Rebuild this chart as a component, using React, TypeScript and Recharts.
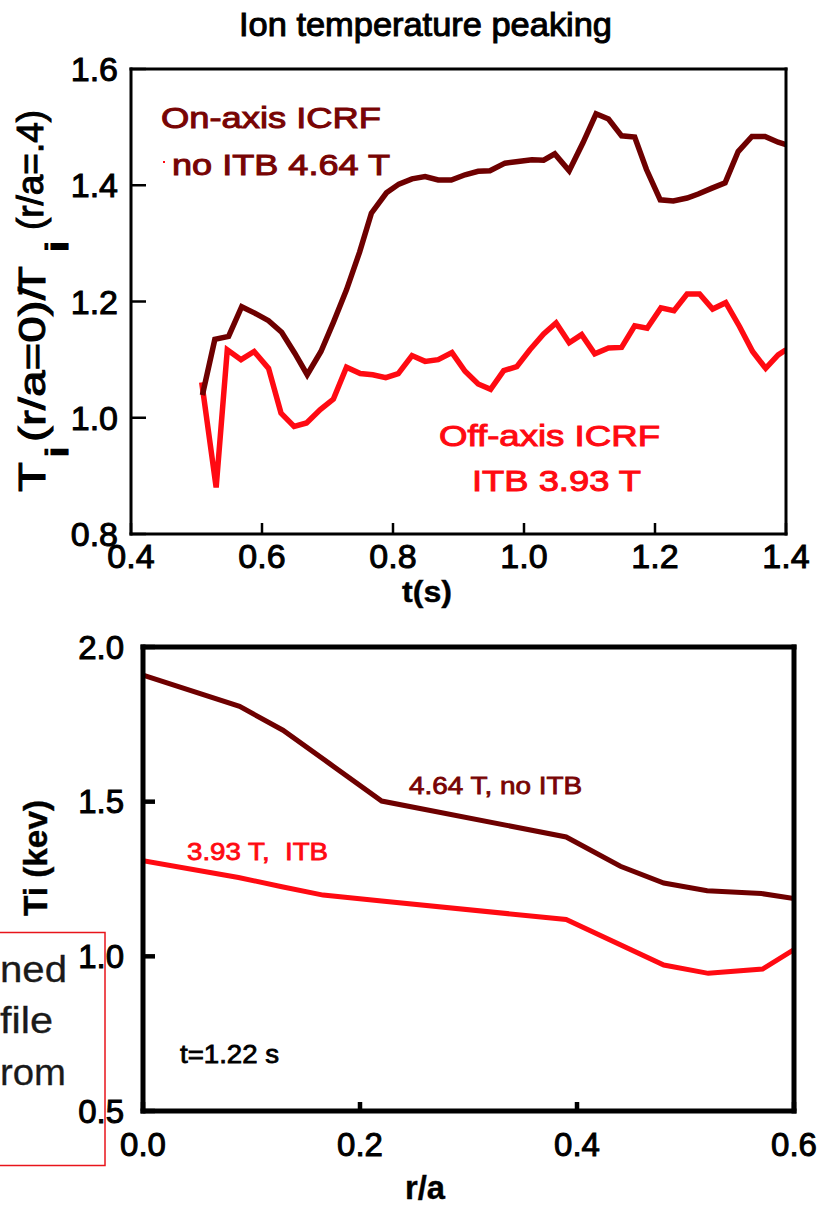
import React from 'react';
import { LineChart, Line, XAxis, YAxis } from 'recharts';

const FONT = "'Liberation Sans', Arial, Helvetica, sans-serif";
const DARK = '#6E0000';
const DARK_TEXT = '#780404';
const RED = '#FF0A12';

// ---- Top chart: Ti(r/a=0)/Ti(r/a=.4) vs t(s)
const onAxisT = [0.509, 0.528, 0.549, 0.569, 0.589, 0.610, 0.630, 0.650, 0.669, 0.690, 0.709, 0.729, 0.749, 0.767, 0.790, 0.809, 0.829, 0.849, 0.869, 0.889, 0.910, 0.930, 0.948, 0.971, 0.991, 1.012, 1.030, 1.047, 1.069, 1.090, 1.110, 1.129, 1.149, 1.169, 1.187, 1.208, 1.228, 1.249, 1.266, 1.287, 1.307, 1.327, 1.348, 1.368, 1.388, 1.400];
const onAxisV = [1.039, 1.135, 1.140, 1.191, 1.180, 1.167, 1.147, 1.111, 1.074, 1.114, 1.164, 1.220, 1.285, 1.352, 1.387, 1.402, 1.411, 1.415, 1.409, 1.409, 1.418, 1.424, 1.425, 1.438, 1.441, 1.444, 1.443, 1.454, 1.425, 1.473, 1.523, 1.514, 1.485, 1.483, 1.427, 1.375, 1.373, 1.378, 1.385, 1.395, 1.404, 1.458, 1.484, 1.484, 1.474, 1.470];
const offAxisT = [0.508, 0.530, 0.547, 0.568, 0.588, 0.610, 0.629, 0.649, 0.668, 0.689, 0.709, 0.729, 0.750, 0.769, 0.789, 0.808, 0.829, 0.849, 0.869, 0.890, 0.910, 0.930, 0.949, 0.969, 0.989, 1.009, 1.030, 1.049, 1.069, 1.088, 1.108, 1.129, 1.149, 1.169, 1.188, 1.209, 1.229, 1.249, 1.268, 1.288, 1.308, 1.329, 1.349, 1.369, 1.388, 1.400];
const offAxisV = [1.061, 0.880, 1.117, 1.100, 1.114, 1.085, 1.008, 0.985, 0.991, 1.014, 1.032, 1.087, 1.076, 1.074, 1.069, 1.076, 1.107, 1.097, 1.100, 1.112, 1.080, 1.058, 1.049, 1.081, 1.088, 1.117, 1.144, 1.163, 1.129, 1.143, 1.110, 1.120, 1.121, 1.158, 1.154, 1.189, 1.184, 1.213, 1.213, 1.187, 1.198, 1.157, 1.114, 1.085, 1.108, 1.117];

const topXMajor = [0.4, 0.6, 0.8, 1.0, 1.2, 1.4];
const topXMinor = [0.45, 0.5, 0.55, 0.65, 0.7, 0.75, 0.85, 0.9, 0.95, 1.05, 1.1, 1.15, 1.25, 1.3, 1.35];
const topYMajor = [0.8, 1.0, 1.2, 1.4, 1.6];
const topYMinor = [0.85, 0.9, 0.95, 1.05, 1.1, 1.15, 1.25, 1.3, 1.35, 1.45, 1.5, 1.55];

// ---- Bottom chart: Ti (kev) vs r/a at t=1.22 s
const noItbR = [0, 0.089, 0.129, 0.172, 0.220, 0.390, 0.440, 0.480, 0.520, 0.570, 0.600];
const noItbV = [1.909, 1.808, 1.731, 1.623, 1.502, 1.386, 1.291, 1.237, 1.212, 1.203, 1.187];
const itbR = [0, 0.088, 0.128, 0.166, 0.220, 0.390, 0.480, 0.521, 0.571, 0.600];
const itbV = [1.309, 1.255, 1.225, 1.198, 1.179, 1.119, 0.972, 0.945, 0.959, 1.022];

const botXMajor = [0, 0.2, 0.4, 0.6];
const botXMinor = [0.05, 0.1, 0.15, 0.25, 0.3, 0.35, 0.45, 0.5, 0.55];
const botYMajor = [0.5, 1.0, 1.5, 2.0];
const botYMinor = [0.6, 0.7, 0.8, 0.9, 1.1, 1.2, 1.3, 1.4, 1.6, 1.7, 1.8, 1.9];

const onAxisData = onAxisT.map((t, i) => ({ t, v: onAxisV[i] }));
const offAxisData = offAxisT.map((t, i) => ({ t, v: offAxisV[i] }));
const noItbData = noItbR.map((t, i) => ({ t, v: noItbV[i] }));
const itbData = itbR.map((t, i) => ({ t, v: itbV[i] }));

const fmt = (v: number) => v.toFixed(1);

type Cfg = {
  xDomain: [number, number];
  yDomain: [number, number];
  xMajor: number[];
  xMinor: number[];
  yMajor: number[];
  yMinor: number[];
  frameW: number;
  tickW: number;
  fontSize: number;
  xGap: number;
  yGap: number;
  len: { xbMaj: number; xbMin: number; xtMaj: number; xtMin: number; ylMaj: number; ylMin: number; yrMaj: number; yrMin: number };
};

// each axis is 1px thick; two axes per side, so margins are reduced by 2
function frameAxes(c: Cfg) {
  const line = { stroke: '#000', strokeWidth: c.frameW, strokeLinecap: 'square' as const };
  const tl = { stroke: '#000', strokeWidth: c.tickW };
  const tickStyle = { fill: '#000', stroke: '#000', strokeWidth: 1, fontSize: c.fontSize, fontFamily: FONT };
  const common = { type: 'number' as const, allowDataOverflow: true, interval: 0 as const, tickLine: tl };
  return [
    <XAxis key="xb" xAxisId="main" dataKey="t" {...common} domain={c.xDomain} ticks={c.xMajor} orientation="bottom" height={1}
      axisLine={line} tickSize={-c.len.xbMaj} tickMargin={c.len.xbMaj + c.xGap} tick={tickStyle} tickFormatter={fmt} />,
    <XAxis key="xbm" xAxisId="xbMinor" dataKey="t" {...common} domain={c.xDomain} ticks={c.xMinor} orientation="bottom" height={1}
      axisLine={false} tickSize={-(c.len.xbMin + 1)} tick={false} />,
    <XAxis key="xt" xAxisId="xtMajor" dataKey="t" {...common} domain={c.xDomain} ticks={c.xMajor} orientation="top" height={1}
      axisLine={line} tickSize={-c.len.xtMaj} tick={false} />,
    <XAxis key="xtm" xAxisId="xtMinor" dataKey="t" {...common} domain={c.xDomain} ticks={c.xMinor} orientation="top" height={1}
      axisLine={false} tickSize={-(c.len.xtMin + 1)} tick={false} />,
    <YAxis key="yl" yAxisId="main" {...common} domain={c.yDomain} ticks={c.yMajor} orientation="left" width={1}
      axisLine={line} tickSize={-c.len.ylMaj} tickMargin={c.len.ylMaj + c.yGap} tick={tickStyle} tickFormatter={fmt} />,
    <YAxis key="ylm" yAxisId="ylMinor" {...common} domain={c.yDomain} ticks={c.yMinor} orientation="left" width={1}
      axisLine={false} tickSize={-(c.len.ylMin + 1)} tick={false} />,
    <YAxis key="yr" yAxisId="yrMajor" {...common} domain={c.yDomain} ticks={c.yMajor} orientation="right" width={1}
      axisLine={line} tickSize={-c.len.yrMaj} tick={false} />,
    <YAxis key="yrm" yAxisId="yrMinor" {...common} domain={c.yDomain} ticks={c.yMinor} orientation="right" width={1}
      axisLine={false} tickSize={-(c.len.yrMin + 1)} tick={false} />,
  ];
}

function TopChart() {
  return (
    <LineChart width={825} height={615} margin={{ top: 67, right: 37, bottom: 79, left: 129 }}>
      {frameAxes({
        xDomain: [0.4, 1.4], yDomain: [0.8, 1.6],
        xMajor: topXMajor, xMinor: topXMinor, yMajor: topYMajor, yMinor: topYMinor,
        frameW: 3, tickW: 2.5, fontSize: 34, xGap: 10, yGap: 13,
        len: { xbMaj: 11, xbMin: 6, xtMaj: 11, xtMin: 6, ylMaj: 15, ylMin: 7, yrMaj: 14, yrMin: 7 },
      })}
      <Line data={offAxisData} dataKey="v" xAxisId="main" yAxisId="main" type="linear" stroke={RED} strokeWidth={5.5}
        dot={false} activeDot={false} isAnimationActive={false} />
      <Line data={onAxisData} dataKey="v" xAxisId="main" yAxisId="main" type="linear" stroke={DARK} strokeWidth={5.5}
        dot={false} activeDot={false} isAnimationActive={false} />
    </LineChart>
  );
}

function BottomChart() {
  return (
    <LineChart width={825} height={590} margin={{ top: 30, right: 29, bottom: 92, left: 141 }}>
      {frameAxes({
        xDomain: [0, 0.6], yDomain: [0.5, 2.0],
        xMajor: botXMajor, xMinor: botXMinor, yMajor: botYMajor, yMinor: botYMinor,
        frameW: 5, tickW: 4.5, fontSize: 33, xGap: 22, yGap: 19,
        len: { xbMaj: 9, xbMin: 4, xtMaj: 10, xtMin: 5, ylMaj: 12, ylMin: 6, yrMaj: 12, yrMin: 6 },
      })}
      <Line data={itbData} dataKey="v" xAxisId="main" yAxisId="main" type="linear" stroke={RED} strokeWidth={5}
        dot={false} activeDot={false} isAnimationActive={false} />
      <Line data={noItbData} dataKey="v" xAxisId="main" yAxisId="main" type="linear" stroke={DARK} strokeWidth={5}
        dot={false} activeDot={false} isAnimationActive={false} />
    </LineChart>
  );
}

const T = (p: any) => (
  <text fontFamily={FONT} lengthAdjust="spacingAndGlyphs" stroke={p.fill} strokeWidth={1} {...p} />
);

function Overlay() {
  return (
    <svg width={825} height={1205} style={{ position: 'absolute', left: 0, top: 0, pointerEvents: 'none' }}>
      <T x={239} y={36} fontSize={33} textLength={373} fill="#000" strokeWidth={1}>Ion temperature peaking</T>

      {/* top y-axis label */}
      <g transform="translate(45,492) rotate(-90)">
        <T x={0} y={0} fontSize={37} textLength={30} fill="#000">T</T>
        <T x={34} y={23} fontSize={32} textLength={12} fill="#000">i</T>
        <T x={50} y={0} fontSize={37} textLength={155} fill="#000">(r/a=0)/</T>
        <T x={197} y={0} fontSize={37} textLength={29} fill="#000">T</T>
        <T x={239} y={23} fontSize={32} textLength={13} fill="#000">i</T>
        <T x={262} y={-2} fontSize={37} textLength={120} fill="#000">(r/a=.4)</T>
      </g>
      <T x={402} y={602} fontSize={30} fontWeight="bold" textLength={50} fill="#000" strokeWidth={0.4}>t(s)</T>

      <T x={161} y={128} fontSize={30} textLength={220} fill={DARK_TEXT}>On-axis ICRF</T>
      <rect x={163} y={161} width={2} height={2} fill={RED} />
      <T x={172} y={175} fontSize={30} textLength={218} fill={DARK_TEXT}>no ITB 4.64 T</T>
      <T x={439} y={446} fontSize={30} textLength={221} fill={RED}>Off-axis ICRF</T>
      <T x={472} y={491} fontSize={30} textLength={169} fill={RED}>ITB 3.93 T</T>

      {/* bottom chart */}
      <g transform="translate(47,916) rotate(-90)">
        <T x={0} y={0} fontSize={34} fontWeight="bold" textLength={116} fill="#000" strokeWidth={0.4}>Ti (kev)</T>
      </g>
      <T x={405} y={1199} fontSize={34} fontWeight="bold" textLength={40} fill="#000" strokeWidth={0.4}>r/a</T>
      <T x={409} y={794} fontSize={24} textLength={173} fill={DARK_TEXT} strokeWidth={0.8}>4.64 T, no ITB</T>
      <T x={187} y={860} fontSize={24} textLength={141} fill={RED} strokeWidth={0.8}>{'3.93 T,\u00A0 ITB'}</T>
      <T x={180} y={1063} fontSize={25} textLength={99} fill="#000" strokeWidth={0.8}>t=1.22 s</T>

      {/* clipped side box */}
      <rect x={-2} y={932.5} width={107} height={233} fill="none" stroke="#E8141B" strokeWidth={1.5} />
      <T x={67} y={982} fontSize={36} textAnchor="end" textLength={67} fill="#1a1a1a" strokeWidth={0.3}>ned</T>
      <T x={53} y={1033} fontSize={36} textAnchor="end" textLength={53} fill="#1a1a1a" strokeWidth={0.3}>file</T>
      <T x={66} y={1085} fontSize={36} textAnchor="end" textLength={66} fill="#1a1a1a" strokeWidth={0.3}>rom</T>
    </svg>
  );
}

export default function App() {
  return (
    <div style={{ position: 'absolute', left: 0, top: 0, width: 825, height: 1205, background: '#fff', fontFamily: FONT }}>
      <div style={{ position: 'absolute', left: 0, top: 0 }}>
        <TopChart />
      </div>
      <div style={{ position: 'absolute', left: 0, top: 615 }}>
        <BottomChart />
      </div>
      <Overlay />
    </div>
  );
}
